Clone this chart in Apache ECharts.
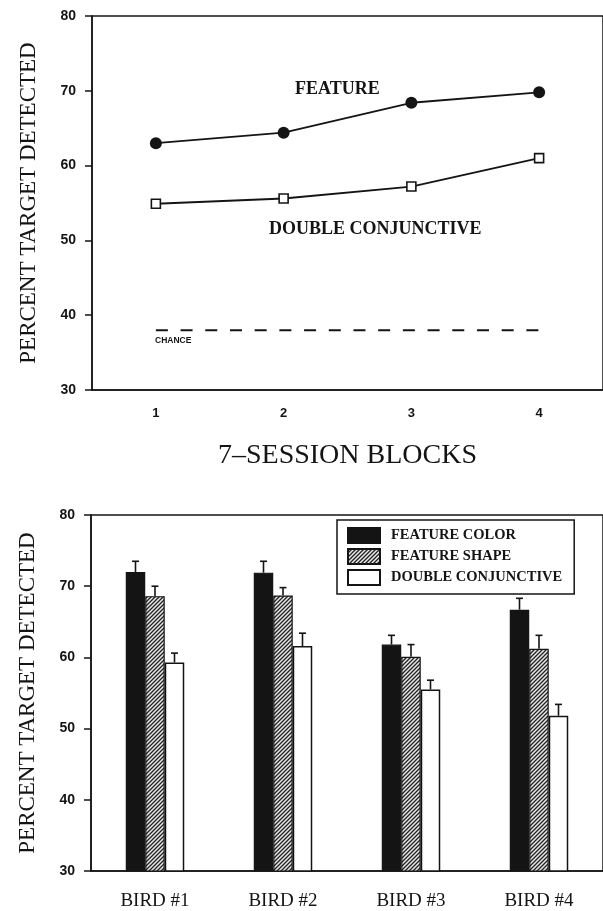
<!DOCTYPE html>
<html>
<head>
<meta charset="utf-8">
<script src="https://cdn.jsdelivr.net/npm/echarts@6/dist/echarts.min.js"></script>
<style>
  html, body { margin: 0; padding: 0; background: #fff; }
  #chart { width: 603px; height: 911px; }
</style>
</head>
<body>
<div id="chart"></div>
<script>
// ---- Top panel data ----
const blocks = ['1', '2', '3', '4'];
const featureLine = [63.0, 64.4, 68.4, 69.8];
const doubleConjLine = [54.9, 55.6, 57.2, 61.0];
const chanceLine = [38, 38, 38, 38];

// ---- Bottom panel data ----
const birds = ['BIRD #1', 'BIRD #2', 'BIRD #3', 'BIRD #4'];
const featureColor = [72.0, 71.9, 61.8, 66.7];
const featureShape = [68.6, 68.7, 60.1, 61.2];
const doubleConj = [59.3, 61.6, 55.5, 51.8];
const featureColorErr = [1.5, 1.6, 1.3, 1.6];
const featureShapeErr = [1.4, 1.1, 1.7, 1.9];
const doubleConjErr = [1.3, 1.8, 1.3, 1.6];

const yTicks = { min: 30, max: 80, interval: 10 };

// hatch pattern
function makeHatch() {
  const s = 4;
  const c = document.createElement('canvas');
  c.width = s; c.height = s;
  const g = c.getContext('2d');
  g.fillStyle = '#e8e8e8';
  g.fillRect(0, 0, s, s);
  g.strokeStyle = '#222';
  g.lineWidth = 1.3;
  g.beginPath();
  g.moveTo(-1, 1); g.lineTo(1, -1);
  g.moveTo(0, s); g.lineTo(s, 0);
  g.moveTo(s - 1, s + 1); g.lineTo(s + 1, s - 1);
  g.stroke();
  return c;
}
const hatch = { image: makeHatch(), repeat: 'repeat' };

const INK = '#141414';
const BAR_W = 19.5;
const tickFont = { fontFamily: 'Liberation Sans, Arial, sans-serif', fontWeight: 'bold', fontSize: 14, color: INK };
const serifTitle = 'Liberation Serif, Times New Roman, serif';

function errSeries(values, errs, slot) {
  return {
    type: 'custom',
    xAxisIndex: 1, yAxisIndex: 1,
    z: 5,
    data: values.map((v, i) => [i, v, errs[i]]),
    renderItem: function (params, api) {
      const base = api.coord([api.value(0), api.value(1)]);
      const top = api.coord([api.value(0), api.value(1) + api.value(2)]);
      const x = base[0] + (slot - 1) * BAR_W;
      const st = { stroke: INK, lineWidth: 1.6 };
      return {
        type: 'group',
        children: [
          { type: 'line', shape: { x1: x, y1: base[1], x2: x, y2: top[1] }, style: st },
          { type: 'line', shape: { x1: x - 3.5, y1: top[1], x2: x + 3.5, y2: top[1] }, style: st }
        ]
      };
    }
  };
}

function yAxisCfg(gridIndex) {
  return {
    type: 'value', gridIndex: gridIndex,
    min: yTicks.min, max: yTicks.max, interval: yTicks.interval,
    name: 'PERCENT TARGET DETECTED',
    nameLocation: 'middle', nameGap: 52,
    nameTextStyle: { fontFamily: serifTitle, fontSize: 23, color: INK },
    axisLine: { show: true, lineStyle: { color: INK, width: 1.5 } },
    axisTick: { show: true, length: 7, lineStyle: { color: INK, width: 1.5 } },
    axisLabel: Object.assign({ margin: 16 }, tickFont),
    splitLine: { show: false }
  };
}

const chart = echarts.init(document.getElementById('chart'), null, { renderer: 'canvas' });
chart.setOption({
  backgroundColor: '#fff',
  animation: false,
  grid: [
    { left: 92, right: 0, top: 16, height: 374, show: true, borderColor: INK, borderWidth: 1.5 },
    { left: 91, right: 0, top: 515, height: 359, show: true, borderColor: INK, borderWidth: 1.5 }
  ],
  xAxis: [
    {
      type: 'category', gridIndex: 0, data: blocks, boundaryGap: true,
      name: '7–SESSION BLOCKS', nameLocation: 'middle', nameGap: 52,
      nameTextStyle: { fontFamily: serifTitle, fontSize: 28, color: INK },
      axisLine: { lineStyle: { color: INK, width: 1.5 } },
      axisTick: { alignWithLabel: true, length: 6, lineStyle: { color: INK, width: 1.5 } },
      axisLabel: Object.assign({ margin: 17 }, tickFont, { fontSize: 13 })
    },
    {
      type: 'category', gridIndex: 1, data: birds, boundaryGap: true,
      axisLine: { lineStyle: { color: INK, width: 1.5 } },
      axisTick: { alignWithLabel: true, length: 6, lineStyle: { color: INK, width: 1.5 } },
      axisLabel: { margin: 21, fontFamily: serifTitle, fontSize: 19, color: INK }
    }
  ],
  yAxis: [yAxisCfg(0), yAxisCfg(1)],
  legend: {
    data: ['FEATURE COLOR', 'FEATURE SHAPE', 'DOUBLE CONJUNCTIVE'],
    orient: 'vertical',
    left: 337, top: 520,
    padding: [7, 12, 8, 10],
    itemGap: 4,
    itemWidth: 32, itemHeight: 15,
    icon: 'rect',
    borderColor: INK, borderWidth: 1.5,
    backgroundColor: '#fff',
    selectedMode: false,
    textStyle: { fontFamily: serifTitle, fontWeight: 'bold', fontSize: 14.5, lineHeight: 15, color: INK, padding: [0, 0, 0, 6] }
  },
  graphic: [
    { type: 'text', left: 295, top: 80, style: { text: 'FEATURE', font: 'bold 18px Liberation Serif', fill: INK } },
    { type: 'text', left: 269, top: 220, style: { text: 'DOUBLE CONJUNCTIVE', font: 'bold 18px Liberation Serif', fill: INK } },
    { type: 'text', left: 155, top: 336, style: { text: 'CHANCE', font: 'bold 8.5px Liberation Sans', fill: INK } }
  ],
  series: [
    {
      name: 'FEATURE', type: 'line', xAxisIndex: 0, yAxisIndex: 0, data: featureLine,
      symbol: 'circle', symbolSize: 12, showAllSymbol: true,
      lineStyle: { color: INK, width: 1.8 },
      itemStyle: { color: INK, borderColor: INK, borderWidth: 0 }
    },
    {
      name: 'DOUBLE CONJUNCTIVE LINE', type: 'line', xAxisIndex: 0, yAxisIndex: 0, data: doubleConjLine,
      symbol: 'rect', symbolSize: 9, showAllSymbol: true,
      lineStyle: { color: INK, width: 1.8 },
      itemStyle: { color: '#fff', borderColor: INK, borderWidth: 1.6 }
    },
    {
      name: 'CHANCE', type: 'line', xAxisIndex: 0, yAxisIndex: 0, data: chanceLine,
      symbol: 'none',
      lineStyle: { color: INK, width: 2, type: [12, 12.7] }
    },
    {
      name: 'FEATURE COLOR', type: 'bar', xAxisIndex: 1, yAxisIndex: 1, data: featureColor,
      barWidth: BAR_W, barGap: '0%',
      itemStyle: { color: INK, borderColor: INK, borderWidth: 1.2 }
    },
    {
      name: 'FEATURE SHAPE', type: 'bar', xAxisIndex: 1, yAxisIndex: 1, data: featureShape,
      barWidth: BAR_W, barGap: '0%',
      itemStyle: { color: hatch, borderColor: INK, borderWidth: 1.2 }
    },
    {
      name: 'DOUBLE CONJUNCTIVE', type: 'bar', xAxisIndex: 1, yAxisIndex: 1, data: doubleConj,
      barWidth: BAR_W, barGap: '0%',
      itemStyle: { color: '#fff', borderColor: INK, borderWidth: 1.5 }
    },
    errSeries(featureColor, featureColorErr, 0),
    errSeries(featureShape, featureShapeErr, 1),
    errSeries(doubleConj, doubleConjErr, 2)
  ]
});
</script>
</body>
</html>
